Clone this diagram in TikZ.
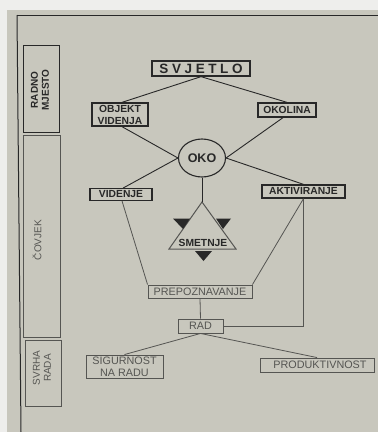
\documentclass[tikz,border=0pt]{standalone}
\usepackage{fontspec}
\setmainfont{Liberation Sans}
\usetikzlibrary{shapes.geometric,calc}
\definecolor{bg}{RGB}{200,199,189}
\definecolor{paper}{RGB}{238,238,236}
\definecolor{ink}{RGB}{40,40,40}
\definecolor{ink2}{RGB}{85,85,82}
\tikzset{
  darkbox/.style={draw=ink, line width=1.3pt, inner sep=0pt, align=center, text=ink, font=\bfseries\fontsize{10.3}{12}\selectfont},
  litebox/.style={draw=ink2, line width=0.9pt, inner sep=0pt, align=center, text=ink2, font=\fontsize{10.8}{12}\selectfont},
  conn/.style={draw=ink, line width=0.9pt},
  conn2/.style={draw=ink2, line width=0.8pt},
  sidebox/.style={draw=ink, line width=1pt, inner sep=0pt},
  sidetext/.style={rotate=90, align=center, inner sep=0pt, font=\fontsize{10}{11}\selectfont}
}
\begin{document}
\begin{tikzpicture}[x=1pt,y=-1pt]
\useasboundingbox (0,0) rectangle (378,432);
\fill[paper] (0,0) rectangle (378,432);
\fill[bg] (7,10) rectangle (378,432);
% frame
\draw[ink, line width=1pt] (17,15) -- (378,15);
\draw[ink, line width=1pt] (17,15) -- (21,432);
% side boxes
\node[sidebox, minimum width=36pt, minimum height=87pt] (rm) at (41,88.5) {};
\node[sidetext, text=ink, font=\bfseries\fontsize{10}{11}\selectfont] (rmt) at (40,90) {RADNO\\MJESTO};
\node[sidebox, draw=ink2, minimum width=37pt, minimum height=202pt] (cv) at (41.5,236) {};
\node[sidetext, text=ink2] (cvt) at (37,240) {ČOVJEK};
\node[sidebox, draw=ink2, minimum width=36pt, minimum height=66pt] (sr) at (43,373) {};
\node[sidetext, text=ink2] (srt) at (42,368) {SVRHA\\RADA};
% main nodes
\node[darkbox, minimum width=98pt, minimum height=15pt, font=\bfseries\fontsize{13.5}{15}\selectfont] (svj) at (201,68.5)
  {S\hspace{3.6pt}V\hspace{3.6pt}J\hspace{3.6pt}E\hspace{3.6pt}T\hspace{3.6pt}L\hspace{3.6pt}O};
\node[darkbox, minimum width=56pt, minimum height=23pt] (obj) at (120,114.5) {OBJEKT\\VIDENJA};
\node[darkbox, minimum width=58pt, minimum height=14pt] (oko) at (287,110) {OKOLINA};
\node[draw=ink, line width=1.1pt, ellipse, minimum width=47pt, minimum height=38pt, inner sep=0pt, text=ink, font=\bfseries\fontsize{12.5}{14}\selectfont] (eye) at (202,158) {OKO};
\node[darkbox, minimum width=62pt, minimum height=11.5pt] (vid) at (121,194.5) {VIDENJE};
\node[darkbox, minimum width=83pt, minimum height=13pt] (akt) at (303.5,191.5) {AKTIVIRANJE};
% triangle
\coordinate (tapex) at (202,202);
\coordinate (tl) at (169,249);
\coordinate (tr) at (236,249);
\draw[ink2, line width=1pt, line join=miter] (tapex) -- (tl) -- (tr) -- cycle;
\node[text=ink, font=\bfseries\fontsize{10.3}{11}\selectfont, inner sep=0pt] (smet) at (203,242.5) {SMETNJE};
\fill[ink] (173,218.5) -- (190,218.5) -- (183,229) -- cycle;
\fill[ink] (216,218.5) -- (231,218.5) -- (223,229) -- cycle;
\fill[ink] (195,251) -- (212,251) -- (203.5,261) -- cycle;
\node[litebox, minimum width=104pt, minimum height=13pt] (pre) at (200,291.5) {PREPOZNAVANJE};
\node[litebox, minimum width=45pt, minimum height=14pt] (rad) at (200.5,326) {RAD};
\node[litebox, minimum width=77pt, minimum height=23pt] (sig) at (124.5,366.5) {SIGURNOST\\NA RADU};
\node[litebox, minimum width=114pt, minimum height=14pt] (pro) at (317,365) {\hspace{6pt}PRODUKTIVNOST};
% connectors
\draw[conn] (svj.south) -- ($(obj.north)+(2,0)$);
\draw[conn] (svj.south) -- (oko.north);
\draw[conn] ($(obj.south)+(2,0)$) -- (eye.west);
\draw[conn] ($(oko.south)+(-4,0)$) -- (eye.east);
\draw[conn] (eye.west) -- ($(vid.north)+(2,0)$);
\draw[conn] (eye.east) -- (akt.north);
\draw[conn] (eye.south) -- (tapex);
\draw[conn2] ($(vid.south)+(1,0)$) -- (pre.north west);
\draw[conn2] (akt.south) -- (pre.north east);
\coordinate (corner) at (akt.south |- rad.east);
\draw[conn2] (akt.south) -- (corner) -- (rad.east);
\draw[conn2] (pre.south) -- (rad.north);
\draw[conn2] (rad.south) -- (sig.north);
\draw[conn2] (rad.south) -- (pro.north);
\end{tikzpicture}
\end{document}
